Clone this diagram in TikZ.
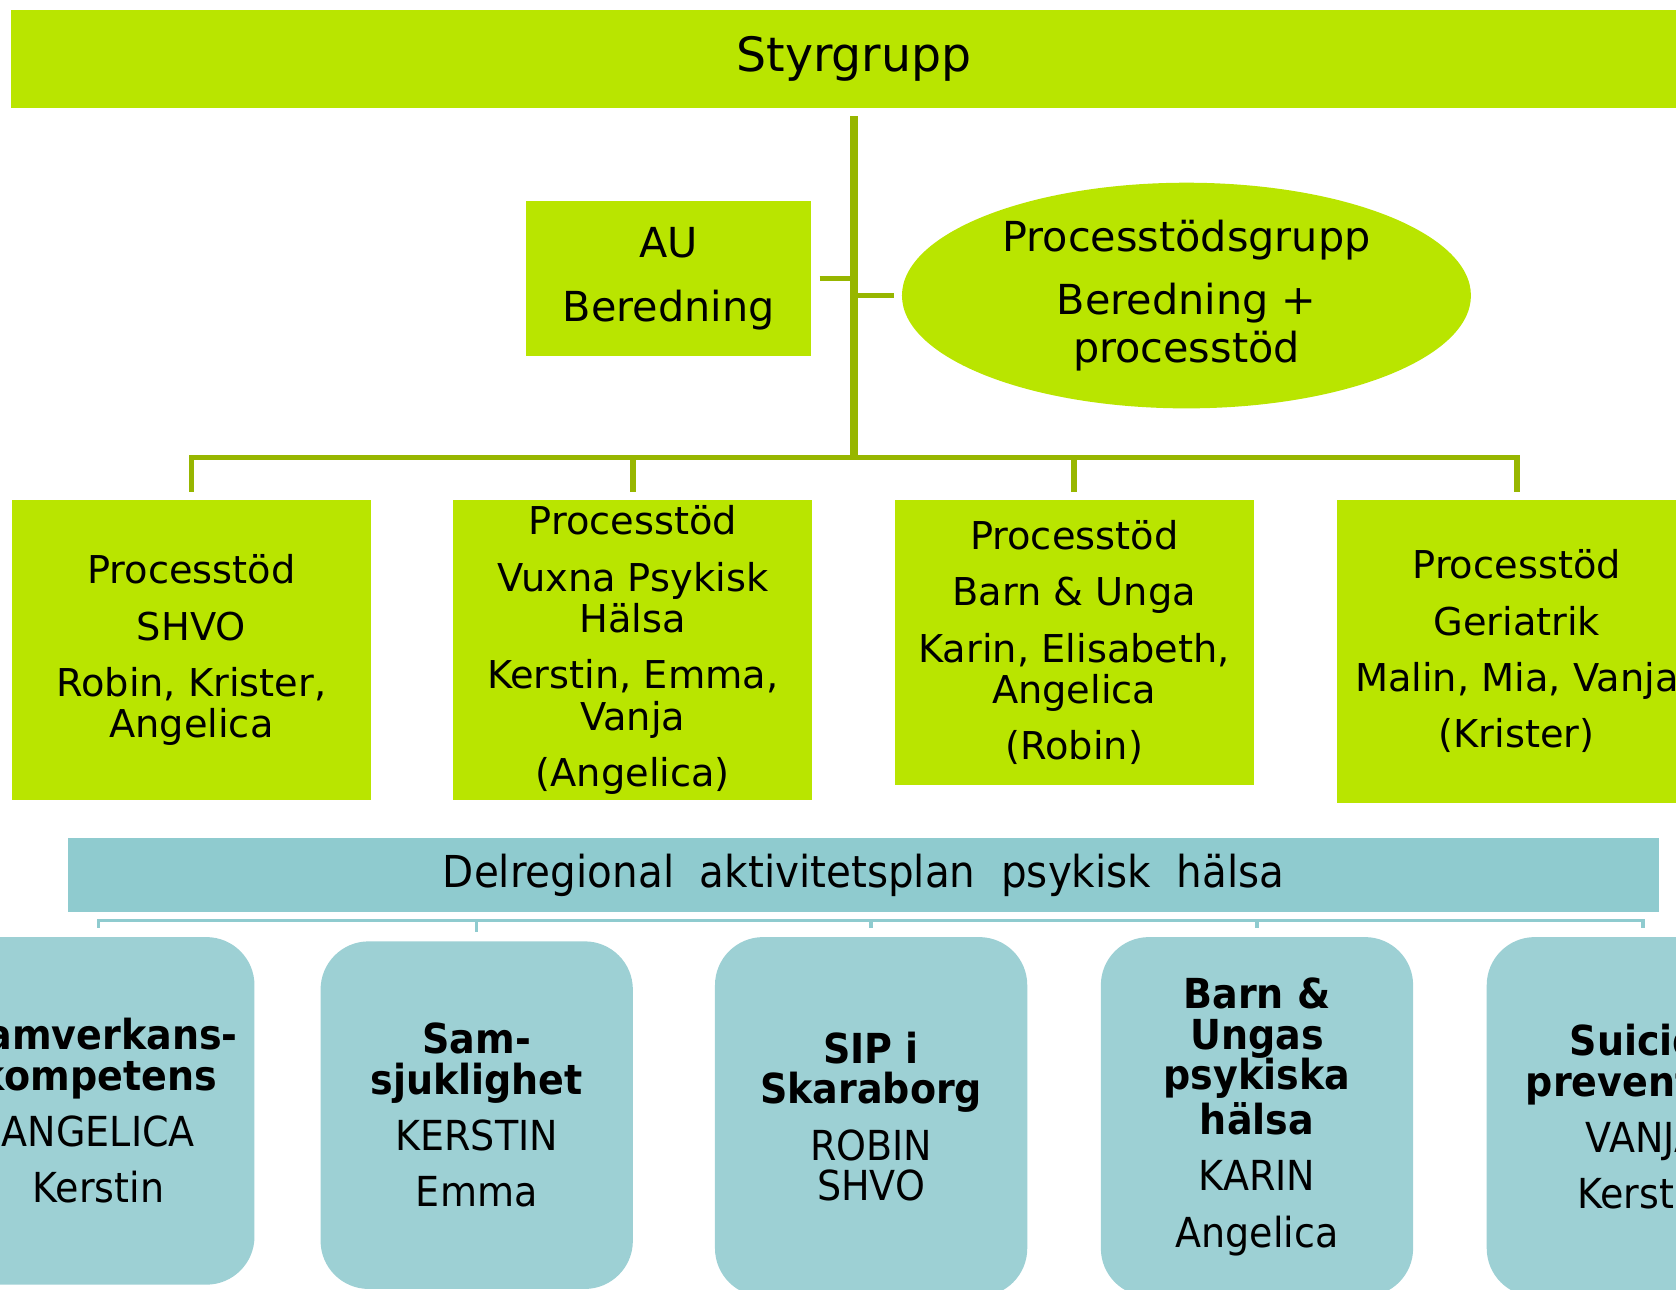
\documentclass[tikz,border=0pt]{standalone}
\usepackage{fontspec}
\setmainfont{DejaVu Sans}
\newfontfamily\narrowfont[FakeStretch=0.92]{DejaVu Sans}
\usetikzlibrary{shapes.geometric}
\definecolor{limegrp}{HTML}{B9E500}
\definecolor{trunkgrn}{HTML}{97B600}
\definecolor{tealbar}{HTML}{8FCBCF}
\definecolor{tealbox}{HTML}{9DD0D4}
\begin{document}
\begin{tikzpicture}[x=0.01cm,y=-0.01cm,
    greenbox/.style={fill=limegrp, inner sep=0pt, align=center, minimum width=3.36cm,
        font=\fontsize{10.2}{11}\selectfont},
    tealcard/.style={fill=tealbox, inner sep=0pt, align=center, rounded corners=12.8pt,
        minimum width=2.92cm, minimum height=3.25cm, anchor=north,
        font=\narrowfont\fontsize{11}{10.8}\selectfont},
    trunk/.style={draw=trunkgrn, line width=2.2pt},
    twig/.style={draw=trunkgrn, line width=1.5pt},
    tealline/.style={draw=tealbar, line width=0.9pt}]
    \useasboundingbox (0,0) rectangle (1568,1206);
    \clip (0,0) rectangle (1568,1206);

    % top level
    \node[fill=limegrp, minimum width=15.76cm, minimum height=0.92cm, inner sep=0pt,
        font=\fontsize{12.6}{15}\selectfont] (styr) at (799,55) {Styrgrupp};
    \node[greenbox, minimum width=2.67cm, minimum height=1.45cm,
        font=\fontsize{11}{13}\selectfont] (au) at (625.5,260.5) {AU\\[4pt] Beredning};
    \node[ellipse, fill=limegrp, minimum width=5.32cm, minimum height=2.11cm, inner sep=0pt,
        align=center, font=\fontsize{11}{12.8}\selectfont] (proc) at (1110,276.5)
        {Processtödsgrupp\\[4pt] Beredning +\\ processtöd};

    % process support groups
    \node[greenbox, minimum height=2.81cm, anchor=north] (p1) at (179,467)
        {Processtöd\\[4pt] SHVO\\[4pt] Robin, Krister,\\ Angelica};
    \node[greenbox, minimum height=2.81cm, anchor=north] (p2) at (592,467)
        {Processtöd\\[4pt] Vuxna Psykisk\\ Hälsa\\[4pt] Kerstin, Emma,\\ Vanja\\[4pt] (Angelica)};
    \node[greenbox, minimum height=2.67cm, anchor=north] (p3) at (1005,467)
        {Processtöd\\[4pt] Barn \& Unga\\[4pt] Karin, Elisabeth,\\ Angelica\\[4pt] (Robin)};
    \node[greenbox, minimum height=2.83cm, anchor=north] (p4) at (1419,467)
        {Processtöd\\[4pt] Geriatrik\\[4pt] Malin, Mia, Vanja\\[4pt] (Krister)};

    \coordinate (hub) at (799,428);
    \draw[trunk, shorten <=2pt] (styr.south) -- (hub);
    \draw[twig, shorten <=2pt] (au.east) -- (au.east -| hub);
    \draw[twig, shorten >=2pt] (proc.west -| hub) -- (proc.west);
    \draw[twig, shorten <=2pt, shorten >=2pt] (p1.north) |- (hub) -| (p4.north);
    \draw[twig, shorten >=2pt] (hub -| p2.north) -- (p2.north);
    \draw[twig, shorten >=2pt] (hub -| p3.north) -- (p3.north);

    % activity plan
    \node[fill=tealbar, minimum width=14.88cm, minimum height=0.69cm, inner sep=0pt,
        font=\narrowfont\fontsize{11.7}{14}\selectfont] (plan) at (808,818.5)
        {Delregional\ \ aktivitetsplan\ \ psykisk\ \ hälsa};

    \node[tealcard] (b1) at (92,876)
        {\textbf{Samverkans-}\\ \textbf{kompetens}\\[4.2pt] ANGELICA\\[4.2pt] Kerstin};
    \node[tealcard] (b2) at (446,880)
        {\textbf{Sam-}\\ \textbf{sjuklighet}\\[4.2pt] KERSTIN\\[4.2pt] Emma};
    \node[tealcard, minimum height=3.36cm] (b3) at (815,876)
        {\textbf{SIP i}\\ \textbf{Skaraborg}\\[4.2pt] ROBIN\\ SHVO};
    \node[tealcard, minimum height=3.36cm] (b4) at (1176,876)
        {\textbf{Barn \&}\\ \textbf{Ungas}\\ \textbf{psykiska}\\ \textbf{hälsa}\\[4.2pt] KARIN\\[4.2pt] Angelica};
    \node[tealcard, minimum height=3.36cm] (b5) at (1537,876)
        {\textbf{Suicid-}\\ \textbf{prevention}\\[4.2pt] VANJA\\[4.2pt] Kerstin};

    \coordinate (tb) at (815,861);
    \draw[tealline, shorten <=2.3pt, shorten >=2.3pt] (b1.north) |- (tb) -| (b5.north);
    \draw[tealline, shorten >=2.3pt] (tb -| b2.north) -- (b2.north);
    \draw[tealline, shorten >=2.3pt] (tb -| b3.north) -- (b3.north);
    \draw[tealline, shorten >=2.3pt] (tb -| b4.north) -- (b4.north);
\end{tikzpicture}
\end{document}
